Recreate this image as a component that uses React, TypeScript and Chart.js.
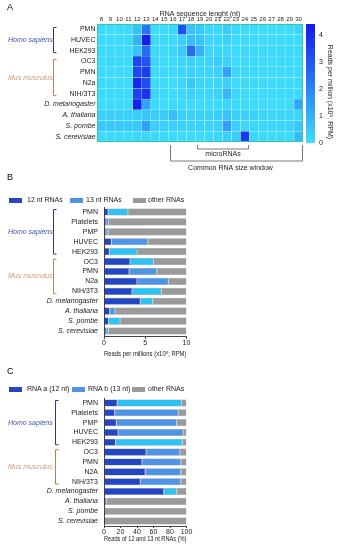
import React, { useEffect, useRef } from 'react';
import { Chart, registerables } from 'chart.js';

Chart.register(...registerables);

const FONT = '"Liberation Sans", Arial, Helvetica, sans-serif';
Chart.defaults.font.family = FONT;
Chart.defaults.color = '#222';

// ---------- Panel A data ----------
const ntLengths = [8, 9, 10, 11, 12, 13, 14, 15, 16, 17, 18, 19, 20, 21, 22, 23, 24, 25, 26, 27, 28, 29, 30];
const heatRowLabels = ['PMN', 'HUVEC', 'HEK293', 'OC3', 'PMN', 'N2a', 'NIH/3T3', 'D. melanogaster', 'A. thaliana', 'S. pombe', 'S. cerevisiae'];
//                 8    9    10   11   12   13   14   15   16   17   18   19   20   21   22   23   24   25   26   27   28   29   30
const hsPMN     = [0.1, 0.1, 0.1, 0.1, 0.7, 2.4, 0.1, 0.1, 0.2, 3.2, 0.6, 0.5, 0.2, 0.2, 0.4, 0.2, 0.1, 0.1, 0.1, 0.1, 0.1, 0.1, 0.2];
const hsHUVEC   = [0.1, 0.1, 0.1, 0.1, 1.0, 4.3, 0.1, 0.1, 0.1, 0.3, 0.7, 0.6, 0.2, 0.2, 0.3, 0.1, 0.1, 0.1, 0.1, 0.1, 0.1, 0.1, 0.1];
const hsHEK293  = [0.1, 0.1, 0.1, 0.1, 0.6, 2.6, 0.1, 0.1, 0.2, 0.5, 2.6, 1.0, 0.2, 0.2, 0.2, 0.1, 0.1, 0.1, 0.1, 0.1, 0.1, 0.1, 0.1];
const mmOC3     = [0.1, 0.2, 0.1, 0.1, 3.4, 3.1, 0.2, 0.1, 0.1, 0.2, 0.3, 0.2, 0.2, 0.4, 0.3, 0.1, 0.1, 0.1, 0.1, 0.1, 0.1, 0.1, 0.1];
const mmPMN     = [0.1, 0.1, 0.1, 0.1, 3.4, 3.6, 0.1, 0.1, 0.1, 0.2, 0.3, 0.2, 0.2, 0.3, 1.3, 0.2, 0.1, 0.1, 0.1, 0.1, 0.1, 0.1, 0.1];
const mmN2a     = [0.1, 0.1, 0.1, 0.1, 4.1, 3.2, 0.1, 0.1, 0.1, 0.2, 0.5, 0.2, 0.2, 0.2, 0.3, 0.1, 0.1, 0.1, 0.1, 0.1, 0.1, 0.1, 0.1];
const mmNIH3T3  = [0.1, 0.1, 0.1, 0.1, 3.5, 3.8, 0.2, 0.1, 0.1, 0.2, 0.3, 0.2, 0.2, 0.3, 0.9, 0.2, 0.1, 0.1, 0.1, 0.1, 0.1, 0.1, 0.1];
const dMel      = [0.1, 0.1, 0.1, 0.1, 4.3, 1.3, 0.1, 0.1, 0.1, 0.1, 0.1, 0.1, 0.1, 0.1, 0.2, 0.1, 0.1, 0.1, 0.1, 0.1, 0.1, 0.1, 1.3];
const aThal     = [0.3, 0.3, 0.3, 0.3, 0.4, 0.5, 0.4, 0.4, 0.7, 0.3, 0.3, 0.3, 0.3, 0.4, 0.6, 0.3, 0.3, 0.3, 0.2, 0.2, 0.2, 0.2, 0.2];
const sPombe    = [0.5, 0.5, 0.5, 0.4, 0.5, 1.4, 0.3, 0.3, 0.3, 0.3, 0.3, 0.3, 0.3, 0.3, 1.4, 0.3, 0.2, 0.2, 0.2, 0.2, 0.2, 0.2, 0.5];
const sCer      = [0.1, 0.1, 0.1, 0.1, 0.2, 0.2, 0.1, 0.1, 0.1, 0.1, 0.1, 0.1, 0.1, 0.2, 0.3, 0.4, 3.7, 0.2, 0.1, 0.1, 0.1, 0.1, 0.8];
const colorbarTicks = [0, 1, 2, 3, 4];
const colorbarMax = 4.4;
const microRNAWindow = [19, 24];
const commonWindow = [16, 30];

// ---------- Panel B data ----------
const barRowLabelsB = ['PMN', 'Platelets', 'PMP', 'HUVEC', 'HEK293', 'OC3', 'PMN', 'N2a', 'NIH/3T3', 'D. melanogaster', 'A. thaliana', 'S. pombe', 'S. cerevisiae'];
const rpm12 = [0.5, 0.25, 0.25, 0.9, 0.65, 3.15, 3.05, 4.0, 3.4, 4.4, 0.7, 0.55, 0.25];
const rpm13 = [2.4, 0.3, 0.25, 4.4, 3.35, 2.85, 3.35, 3.8, 3.55, 1.5, 0.65, 1.4, 0.3];
const rpmOther = [7.1, 9.45, 9.5, 4.7, 6.0, 4.0, 3.6, 2.2, 3.05, 4.1, 8.65, 8.05, 9.45];
const xTicksB = [0, 5, 10];

// ---------- Panel C data ----------
const barRowLabelsC = ['PMN', 'Platelets', 'PMP', 'HUVEC', 'HEK293', 'OC3', 'PMN', 'N2A', 'NIH/3T3', 'D. melanogaster', 'A. thaliana', 'S. pombe', 'S. cerevisiae'];
const pct12 = [16, 13, 15, 17, 14, 51, 46, 50, 44, 72.5, 2.5, 0.5, 0.3];
const pct13 = [78, 77, 73, 79, 81, 41, 47, 43, 49, 15.5, 0.5, 0.3, 0.3];
const pctOther = [6, 10, 12, 4, 5, 8, 7, 7, 7, 12, 97, 99.2, 99.4];
const xTicksC = [0, 20, 40, 60, 80, 100];

// ---------- styles ----------
const DARK = '#2246c4';
const CYAN = '#2dc2f2';
const MID = '#4d94e6';
const GRAY = '#9a9a9a';
const colors13B = [CYAN, MID, MID, MID, CYAN, CYAN, MID, MID, CYAN, CYAN, MID, CYAN, CYAN];
const colors13C = [CYAN, MID, MID, MID, CYAN, MID, MID, MID, MID, CYAN, MID, MID, MID];

const C0 = [62, 222, 252];
const C1 = [22, 24, 236];
function heatColor(v: number) {
  const t = Math.max(0, Math.min(1, v / colorbarMax));
  const c = C0.map((a, i) => Math.round(a + (C1[i] - a) * t));
  return `rgb(${c[0]},${c[1]},${c[2]})`;
}

const noPad = (s: any) => { s.paddingTop = 0; s.paddingBottom = 0; s.paddingLeft = 0; s.paddingRight = 0; };

const groupPlugin = {
  id: 'groups',
  afterDraw(chart: any, _args: any, opts: any) {
    const { ctx } = chart;
    const y = chart.scales.y;
    const band = y.getPixelForValue(1) - y.getPixelForValue(0);
    (opts.groups || []).forEach((g: any) => {
      const top = y.getPixelForValue(g.from) - band / 2 + opts.inset;
      const bot = y.getPixelForValue(g.to) + band / 2 - opts.inset;
      ctx.save();
      ctx.strokeStyle = g.line;
      ctx.lineWidth = 1;
      ctx.beginPath();
      ctx.moveTo(opts.bx + 3.5, top + 0.5);
      ctx.lineTo(opts.bx + 0.5, top + 0.5);
      ctx.lineTo(opts.bx + 0.5, bot - 0.5);
      ctx.lineTo(opts.bx + 3.5, bot - 0.5);
      ctx.stroke();
      ctx.fillStyle = g.text;
      ctx.font = `italic 7px ${FONT}`;
      ctx.textAlign = 'left';
      ctx.textBaseline = 'middle';
      ctx.fillText(g.label, opts.lx, (top + bot) / 2);
      ctx.restore();
    });
  },
};

const windowPlugin = {
  id: 'windows',
  afterDraw(chart: any, _args: any, opts: any) {
    const { ctx, chartArea } = chart;
    const x = chart.scales.x;
    ctx.save();
    ctx.strokeStyle = '#35c6b2';
    ctx.lineWidth = 1;
    ctx.strokeRect(chartArea.left + 0.5, chartArea.top + 0.5, chartArea.right - chartArea.left - 1, chartArea.bottom - chartArea.top - 1);
    (opts.windows || []).forEach((w: any) => {
      const l = Math.round(x.getPixelForValue(w.range[0] - 0.5) + 1.5) + 0.5;
      const r = Math.round(x.getPixelForValue(w.range[1] + 0.5) - 1.5) + 0.5;
      const top = chartArea.bottom + 3;
      const bot = top + w.depth;
      ctx.strokeStyle = '#7a7a7a';
      ctx.lineWidth = 1;
      ctx.beginPath();
      ctx.moveTo(l, top);
      ctx.lineTo(l, bot);
      ctx.lineTo(r, bot);
      ctx.lineTo(r, top);
      ctx.stroke();
      ctx.fillStyle = '#222';
      ctx.font = `7px ${FONT}`;
      ctx.textAlign = 'center';
      ctx.textBaseline = 'middle';
      ctx.fillText(w.label, (l + r) / 2 + w.dx, bot + w.textGap);
    });
    ctx.restore();
  },
};

// vertical colour-bar title, drawn slightly below the bar centre as in the figure
const cbarTitlePlugin = {
  id: 'cbarTitle',
  afterDraw(chart: any, _args: any, opts: any) {
    const { ctx } = chart;
    ctx.save();
    ctx.translate(opts.x, opts.y);
    ctx.rotate(Math.PI / 2);
    ctx.fillStyle = '#222';
    ctx.font = `7px ${FONT}`;
    ctx.textAlign = 'center';
    ctx.textBaseline = 'middle';
    ctx.fillText(opts.text, 0, 0);
    ctx.restore();
  },
};

const rowFont = (italicFrom: number) => (c: any) => ({ size: 7, family: FONT, style: c.index >= italicFrom ? 'italic' : 'normal' });

function stackedConfig(labels: string[], d12: number[], d13: number[], dOther: number[], c13: string[], names: string[], xTicks: number[], max: number, title: string, tickLen: number, titlePadBottom: number, bx: number) {
  const common = { borderWidth: 0.5, borderColor: 'rgba(40,40,60,0.55)', borderSkipped: false, barPercentage: 0.72, categoryPercentage: 1 };
  return {
    type: 'bar',
    data: {
      labels,
      datasets: [
        { label: names[0], data: d12, backgroundColor: DARK, ...common },
        { label: names[1], data: d13, backgroundColor: c13, ...common },
        { label: names[2], data: dOther, backgroundColor: GRAY, ...common },
      ],
    },
    options: {
      indexAxis: 'y',
      responsive: false,
      animation: false,
      devicePixelRatio: 1,
      layout: { padding: { top: 2, right: 13.5, left: 0, bottom: 0 } },
      plugins: {
        legend: { display: false },
        tooltip: { enabled: false },
        groups: {
          bx, lx: 8, inset: 2,
          groups: [
            { label: 'Homo sapiens', from: 0, to: 4, line: '#2a3a8a', text: '#4252a6' },
            { label: 'Mus musculus', from: 5, to: 8, line: '#c07c52', text: '#c99a78' },
          ],
        },
      },
      scales: {
        x: {
          stacked: true,
          min: 0,
          max,
          afterBuildTicks: (s: any) => { s.ticks = xTicks.map((v) => ({ value: v })); },
          afterFit: (s: any) => { s.height = 24; noPad(s); },
          grid: { drawOnChartArea: false, drawTicks: true, tickLength: tickLen, color: '#444' },
          border: { display: true, color: '#444', width: 1 },
          ticks: { font: { size: 7 }, padding: 0, maxRotation: 0, color: '#222' },
          title: { display: true, text: title, font: { size: 7 }, padding: { top: 0, bottom: titlePadBottom }, color: '#222' },
        },
        y: {
          stacked: true,
          afterFit: (s: any) => { s.width = 104; noPad(s); },
          grid: { display: false, drawTicks: false },
          border: { display: true, color: '#444', width: 1 },
          ticks: { font: rowFont(9), padding: 6, autoSkip: false, color: '#222' },
        },
      },
    },
    plugins: [groupPlugin],
  } as any;
}

export default function App() {
  const heatRef = useRef<HTMLCanvasElement>(null);
  const cbarRef = useRef<HTMLCanvasElement>(null);
  const bRef = useRef<HTMLCanvasElement>(null);
  const cRef = useRef<HTMLCanvasElement>(null);

  useEffect(() => {
    const charts: Chart[] = [];
    const heatValues = [hsPMN, hsHUVEC, hsHEK293, mmOC3, mmPMN, mmN2a, mmNIH3T3, dMel, aThal, sPombe, sCer];

    const heatDatasets = ntLengths.map((nt, ci) => ({
      data: heatRowLabels.map(() => [nt - 0.5, nt + 0.5]),
      backgroundColor: heatValues.map((row) => heatColor(row[ci])),
      borderColor: 'rgba(185,245,255,0.85)',
      borderWidth: 0.5,
      borderSkipped: false,
      barPercentage: 1,
      categoryPercentage: 1,
      grouped: false,
    }));

    charts.push(new Chart(heatRef.current!, {
      type: 'bar',
      data: { labels: heatRowLabels, datasets: heatDatasets },
      options: {
        indexAxis: 'y',
        responsive: false,
        animation: false,
        devicePixelRatio: 1,
        layout: { padding: { left: 0, right: 3, top: 0, bottom: 33 } },
        plugins: {
          legend: { display: false },
          tooltip: { enabled: false },
          groups: {
            bx: 53, lx: 8, inset: 3,
            groups: [
              { label: 'Homo sapiens', from: 0, to: 2, line: '#2a3a8a', text: '#4252a6' },
              { label: 'Mus musculus', from: 3, to: 6, line: '#c07c52', text: '#c99a78' },
            ],
          },
          windows: {
            windows: [
              { label: 'microRNAs', range: microRNAWindow, depth: 4, textGap: 5, dx: 0 },
              { label: 'Common RNA size window', range: commonWindow, depth: 16, textGap: 7, dx: -6 },
            ],
          },
        },
        scales: {
          x: {
            type: 'linear',
            position: 'top',
            min: 7.5,
            max: 30.5,
            grid: { display: false, drawTicks: false },
            border: { display: false },
            afterBuildTicks: (s: any) => { s.ticks = ntLengths.map((v) => ({ value: v })); },
            afterFit: (s: any) => { s.height = 24; noPad(s); },
            ticks: { font: { size: 6 }, padding: 1, maxRotation: 0, autoSkip: false, color: '#222' },
            title: { display: true, text: 'RNA sequence lenght (nt)', font: { size: 7 }, padding: { top: 9.8, bottom: 0 }, color: '#222' },
          },
          y: {
            grid: { display: false, drawTicks: false },
            border: { display: false },
            afterFit: (s: any) => { s.width = 97; noPad(s); },
            ticks: { font: rowFont(7), padding: 1.5, autoSkip: false, color: '#222' },
          },
        },
      },
      plugins: [groupPlugin, windowPlugin],
    } as any));

    charts.push(new Chart(cbarRef.current!, {
      type: 'bar',
      data: {
        labels: [''],
        datasets: [{
          data: [colorbarMax],
          barPercentage: 1,
          categoryPercentage: 1,
          borderWidth: 0,
          backgroundColor: (ctx: any) => {
            const ca = ctx.chart.chartArea;
            if (!ca) return heatColor(2);
            const g = ctx.chart.ctx.createLinearGradient(0, ca.bottom, 0, ca.top);
            for (let i = 0; i <= 10; i++) g.addColorStop(i / 10, heatColor((colorbarMax * i) / 10));
            return g;
          },
        }],
      },
      options: {
        responsive: false,
        animation: false,
        devicePixelRatio: 1,
        layout: { padding: { left: 6, top: 24, bottom: 7, right: 0 } },
        plugins: {
          legend: { display: false },
          tooltip: { enabled: false },
          cbarTitle: { text: 'Reads per million (x10⁵; RPM)', x: 29.5, y: 92 },
        },
        scales: {
          x: { display: false },
          y: {
            position: 'right',
            min: 0,
            max: colorbarMax,
            afterBuildTicks: (s: any) => { s.ticks = colorbarTicks.map((v) => ({ value: v })); },
            afterFit: (s: any) => { s.width = 26; noPad(s); },
            grid: { display: false, drawTicks: false },
            border: { display: false },
            ticks: { font: { size: 7 }, padding: 4, color: '#222' },
          },
        },
      },
      plugins: [cbarTitlePlugin],
    } as any));

    charts.push(new Chart(bRef.current!, stackedConfig(barRowLabelsB, rpm12, rpm13, rpmOther, colors13B,
      ['12 nt RNAs', '13 nt RNAs', 'other RNAs'], xTicksB, 10, 'Reads per millions (x10⁵; RPM)', 3, 2, 53)));

    charts.push(new Chart(cRef.current!, stackedConfig(barRowLabelsC, pct12, pct13, pctOther, colors13C,
      ['RNA a (12 nt)', 'RNA b (13 nt)', 'other RNAs'], xTicksC, 100, 'Reads of 12 and 13 nt RNAs (%)', 2, 7, 55)));

    return () => charts.forEach((c) => c.destroy());
  }, []);

  const txt = (s: string, x: number, cy: number, size = 7): React.ReactElement => (
    <div style={{ position: 'absolute', left: x, top: cy - 5, height: 10, lineHeight: '10px', fontSize: size, whiteSpace: 'nowrap', color: '#222' }}>{s}</div>
  );
  const box = (color: string, x: number, cy: number): React.ReactElement => (
    <div style={{ position: 'absolute', left: x, top: cy - 2.5, width: 13, height: 5, background: color }} />
  );

  return (
    <div style={{ position: 'fixed', left: 0, top: 0, width: 341, height: 550, background: '#fff', fontFamily: FONT, overflow: 'hidden' }}>
      <canvas ref={heatRef} width={306} height={175} style={{ position: 'absolute', left: 0, top: 0, width: 306, height: 175 }} />
      <canvas ref={cbarRef} width={41} height={150} style={{ position: 'absolute', left: 300, top: 0, width: 41, height: 150 }} />
      <canvas ref={bRef} width={200} height={155} style={{ position: 'absolute', left: 0, top: 205, width: 200, height: 155 }} />
      <canvas ref={cRef} width={200} height={154} style={{ position: 'absolute', left: 0, top: 396, width: 200, height: 154 }} />

      <div style={{ position: 'absolute', left: 7, top: 2, fontSize: 9, lineHeight: '10px' }}>A</div>
      <div style={{ position: 'absolute', left: 7, top: 172, fontSize: 9, lineHeight: '10px' }}>B</div>
      <div style={{ position: 'absolute', left: 7, top: 366, fontSize: 9, lineHeight: '10px' }}>C</div>

      {box(DARK, 9, 200)}{txt('12 nt RNAs', 27, 200)}
      {box(MID, 70, 200)}{txt('13 nt RNAs', 86, 200)}
      {box(GRAY, 133, 200)}{txt('other RNAs', 148, 200)}

      {box(DARK, 9, 389)}{txt('RNA a (12 nt)', 27, 389)}
      {box(MID, 72, 389)}{txt('RNA b (13 nt)', 88, 389)}
      {box(GRAY, 132, 389)}{txt('other RNAs', 148, 389)}
    </div>
  );
}
